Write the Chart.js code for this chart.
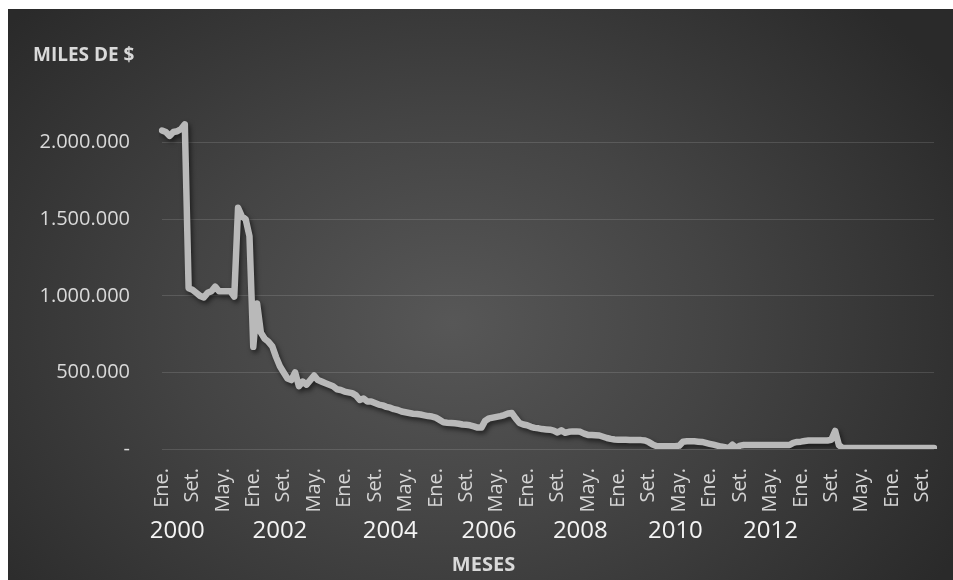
<!DOCTYPE html>
<html>
<head>
<meta charset="utf-8">
<script src="https://cdn.jsdelivr.net/npm/chart.js@4/dist/chart.umd.min.js"></script>
<style>
  body { margin: 0; background: #ffffff; }
  #panel {
    position: absolute; left: 8px; top: 9px; width: 945px; height: 571px;
    background: radial-gradient(ellipse 62% 80% at 47% 55%, #575757 0%, #444444 45%, #2a2a2a 100%);
  }
</style>
</head>
<body>
<div id="panel"><canvas id="dataChart"></canvas></div>
<script>
const monthNames = ['Ene.', 'Feb.', 'Mar.', 'Abr.', 'May.', 'Jun.', 'Jul.', 'Ago.', 'Set.', 'Oct.', 'Nov.', 'Dic.']
const years = [2000, 2001, 2002, 2003, 2004, 2005, 2006, 2007, 2008, 2009, 2010, 2011, 2012, 2013, 2014, 2015, 2016]

// year captions under the month ticks, and the month index where each one sits in the picture
const yearLabels = ['2000', '2002', '2004', '2006', '2008', '2010', '2012']
const yearLabelMonth = [4, 31, 60, 86, 110, 135, 160]

// y ticks shown on the value axis
const yTicks = [0, 500000, 1000000, 1500000, 2000000]

// miles de $, one value per month, Ene. 2000 .. Dic. 2016
const saldo = [
    2080000, 2070000, 2045000, 2070000, 2075000, 2090000, 2120000,
    1050000, 1040000, 1020000, 1000000, 990000, 1020000, 1030000, 1060000, 1030000, 1030000, 1030000, 1030000, 995000,
    1575000, 1520000, 1500000, 1390000, 667000, 950000, 760000, 720000, 700000, 670000,
    600000, 540000, 500000, 460000, 450000, 500000, 410000, 440000, 420000, 450000, 480000, 450000,
    440000, 430000, 420000, 410000, 390000, 385000, 375000, 370000, 365000, 350000,
    320000, 330000, 310000, 310000, 300000, 290000, 285000, 275000, 270000, 260000,
    255000, 245000, 240000, 235000, 230000, 228000, 225000, 220000, 215000, 212000,
    205000, 190000, 175000, 172000, 170000, 168000, 165000, 160000, 158000, 155000,
    148000, 140000, 140000, 185000, 200000, 205000, 210000, 215000, 222000, 232000,
    235000, 200000, 170000, 160000, 155000, 145000, 138000, 135000,
    130000, 128000, 126000, 120000, 108000, 122000, 106000, 112000, 115000, 115000,
    112000, 100000, 92000, 92000, 90000, 88000, 80000, 72000, 66000, 62000,
    60000, 60000, 60000, 59000, 58000, 58000, 58000, 55000, 45000, 30000,
    20000, 18000, 18000, 18000, 18000, 18000, 22000, 48000, 50000, 50000,
    50000, 48000, 46000, 40000, 34000, 28000, 22000, 16000, 12000, 6000,
    28000, 8000, 22000, 26000, 26000, 26000, 26000, 26000, 26000, 26000,
    26000, 26000, 26000, 26000, 26000, 26000, 40000, 46000, 48000, 52000,
    55000, 56000, 56000, 56000, 56000, 56000, 60000, 118000, 25000, 6000,
    6000, 6000, 6000, 6000, 6000, 6000, 6000, 6000, 6000, 6000, 6000, 6000,
    6000, 6000, 6000, 6000, 6000, 6000, 6000, 6000, 6000, 6000, 6000, 6000
]

const labels = []
years.forEach(function (y) {
    monthNames.forEach(function (m) { labels.push(m + ' ' + y) })
})

const fontFamily = '"Open Sans", "Noto Sans", sans-serif'

function miles(v) {
    if (v === 0) return '-'
    return String(v).replace(/\B(?=(\d{3})+(?!\d))/g, '.')
}

// soft drop shadow under the line, like the Excel style
const lineShadow = {
    id: 'lineShadow',
    beforeDatasetsDraw(chart) {
        const c = chart.ctx
        c.save()
        c.shadowColor = 'rgba(0, 0, 0, 0.55)'
        c.shadowBlur = 5
        c.shadowOffsetX = 2
        c.shadowOffsetY = 3
    },
    afterDatasetsDraw(chart) {
        chart.ctx.restore()
    }
}

// keep the bottom axes from shrinking the plot sideways
function fixHeight(h) {
    return function (scale) {
        scale.height = h
        scale.paddingLeft = 0
        scale.paddingRight = 0
    }
}

const ctx = document.getElementById('dataChart')

var chartOptions = {
    responsive: true,
    maintainAspectRatio: false,
    animation: false,
    layout: { padding: { left: 25, right: 19, top: 0, bottom: 0 } },
    scales: {
        x: {
            type: 'category',
            offset: false,
            grid: { display: false, drawTicks: false },
            border: { display: false },
            ticks: {
                autoSkip: false,
                minRotation: 90,
                maxRotation: 90,
                padding: 19,
                color: '#d4d4d4',
                font: { family: fontFamily, size: 20 },
                callback: function (value, index) {
                    return index % 8 === 0 ? monthNames[index % 12] : ''
                }
            },
            afterFit: fixHeight(70)
        },
        x2: {
            type: 'category',
            position: 'bottom',
            weight: 1,
            offset: false,
            grid: { display: false, drawTicks: false },
            border: { display: false },
            ticks: {
                autoSkip: false,
                maxRotation: 0,
                minRotation: 0,
                padding: 0,
                color: '#f4f4f4',
                font: { family: fontFamily, size: 24, lineHeight: 1 },
                callback: function (value, index) {
                    const k = yearLabelMonth.indexOf(index)
                    return k >= 0 ? yearLabels[k] : ''
                }
            },
            afterFit: fixHeight(28)
        },
        y: {
            min: 0,
            max: 2300000,
            grid: { color: 'rgba(255, 255, 255, 0.13)', drawTicks: false, lineWidth: 1 },
            border: { display: false },
            afterBuildTicks: function (scale) {
                scale.ticks = yTicks.map(function (v) { return { value: v } })
            },
            ticks: {
                padding: 32,
                color: '#d9d9d9',
                font: { family: fontFamily, size: 20 },
                callback: function (v) { return miles(v) }
            },
            afterFit: function (scale) { scale.width = 129 }
        }
    },
    plugins: {
        legend: { display: false },
        tooltip: { enabled: false },
        title: {
            display: true,
            text: 'MILES DE $',
            align: 'start',
            color: '#d9d9d9',
            font: { family: fontFamily, size: 19, weight: 'bold' },
            padding: { top: 35, bottom: 30 }
        },
        subtitle: {
            display: true,
            position: 'bottom',
            text: 'MESES',
            color: '#d9d9d9',
            font: { family: fontFamily, size: 20, weight: 'bold' },
            padding: { top: 6, bottom: 3 }
        }
    }
}

var chartData = {
    labels: labels,
    datasets: [{
        label: 'Miles de $',
        data: saldo,
        fill: false,
        borderColor: '#b9b9b9',
        borderWidth: 6.5,
        borderJoinStyle: 'round',
        borderCapStyle: 'round',
        pointRadius: 0,
        tension: 0
    }]
}

var myChart = new Chart(ctx, {
    type: 'line',
    data: chartData,
    options: chartOptions,
    plugins: [lineShadow]
})
</script>
</body>
</html>
